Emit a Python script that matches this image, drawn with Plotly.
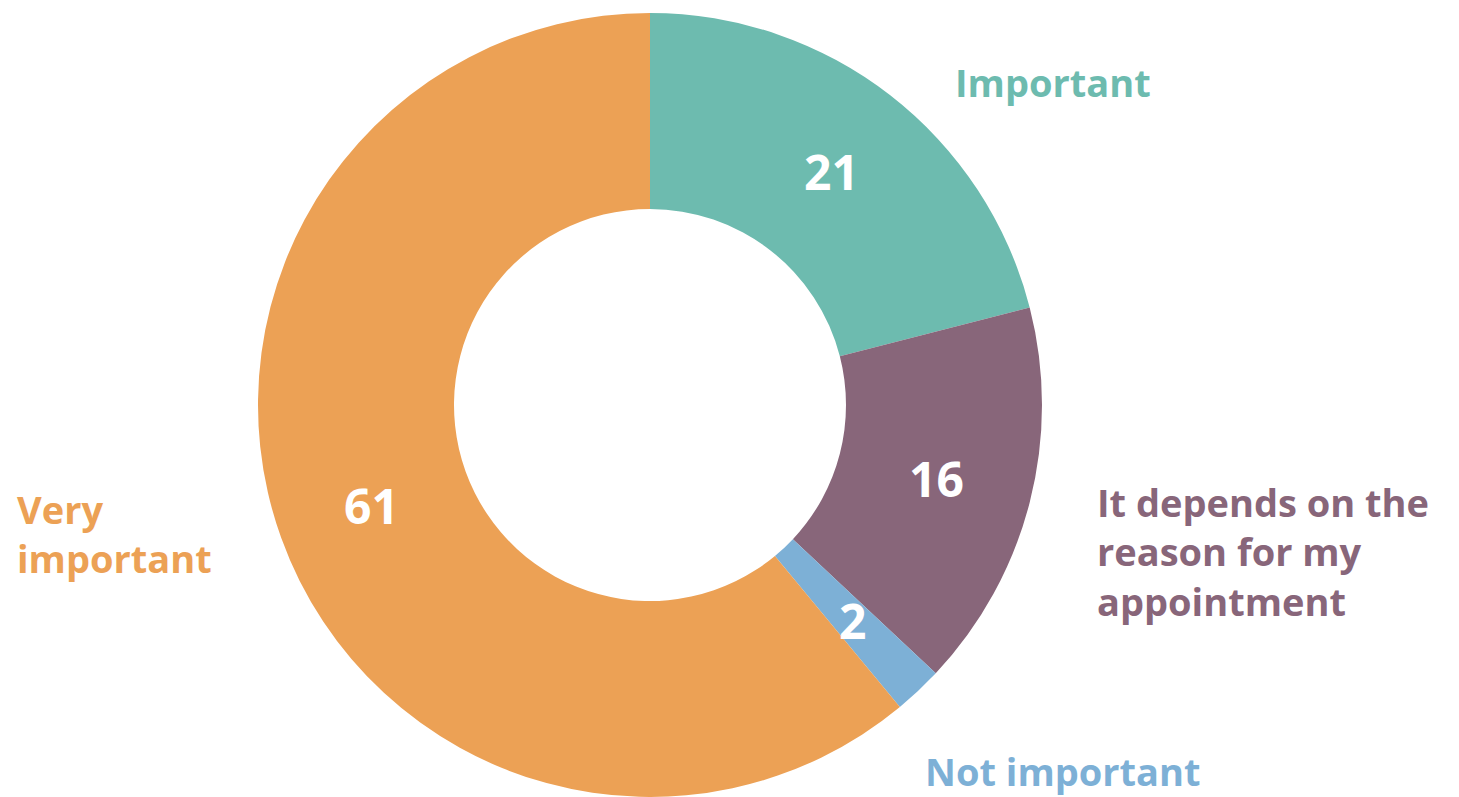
import math
import plotly.graph_objects as go

categories = ["Important", "It depends on the reason for my appointment", "Not important", "Very important"]
values = [21, 16, 2, 61]
colors = ["#6dbbaf", "#88667a", "#7db0d6", "#eca155"]
label_texts = ["Important", "It depends on the<br>reason for my<br>appointment", "Not important", "Very<br>important"]

W, H = 1459, 797
cx, cy, r = 650, 405, 392
hole = 0.5
FONT = "Open Sans, sans-serif"

def px(x):
    return x / W

def py(y):
    return 1 - y / H

fig = go.Figure(go.Pie(
    labels=categories,
    values=values,
    hole=hole,
    sort=False,
    direction="clockwise",
    rotation=0,
    marker=dict(colors=colors, line=dict(width=0)),
    textinfo="none",
    domain=dict(x=[px(cx - r), px(cx + r)], y=[0, (2 * r) / H]),
    showlegend=False,
    hoverinfo="label+value",
))

annotations = []
# value labels at the middle of each ring segment, derived from the data
total = sum(values)
cum = 0
rmid = r * (1 + hole) / 2 + 2
for v in values:
    mid = (cum + v / 2) / total * 2 * math.pi
    cum += v
    x = cx + rmid * math.sin(mid)
    y = cy - rmid * math.cos(mid)
    annotations.append(dict(
        text=f"<b>{v}</b>", x=px(x), y=py(y), xref="paper", yref="paper",
        xanchor="center", yanchor="middle", showarrow=False,
        font=dict(size=48, color="white", family=FONT),
    ))

# category labels (x, y, anchor)
label_pos = [
    (1053, 82, "center"),
    (1095, 551, "left"),
    (1062, 771, "center"),
    (15, 533, "left"),
]
for txt, col, (x, y, anc) in zip(label_texts, colors, label_pos):
    annotations.append(dict(
        text=f"<b>{txt}</b>", x=px(x), y=py(y), xref="paper", yref="paper",
        xanchor=anc, yanchor="middle", align="left", showarrow=False,
        font=dict(size=38, color=col, family=FONT),
    ))

fig.update_layout(
    width=W, height=H,
    margin=dict(l=0, r=0, t=0, b=0),
    paper_bgcolor="white", plot_bgcolor="white",
    annotations=annotations,
)

fig.write_html("out.html")
